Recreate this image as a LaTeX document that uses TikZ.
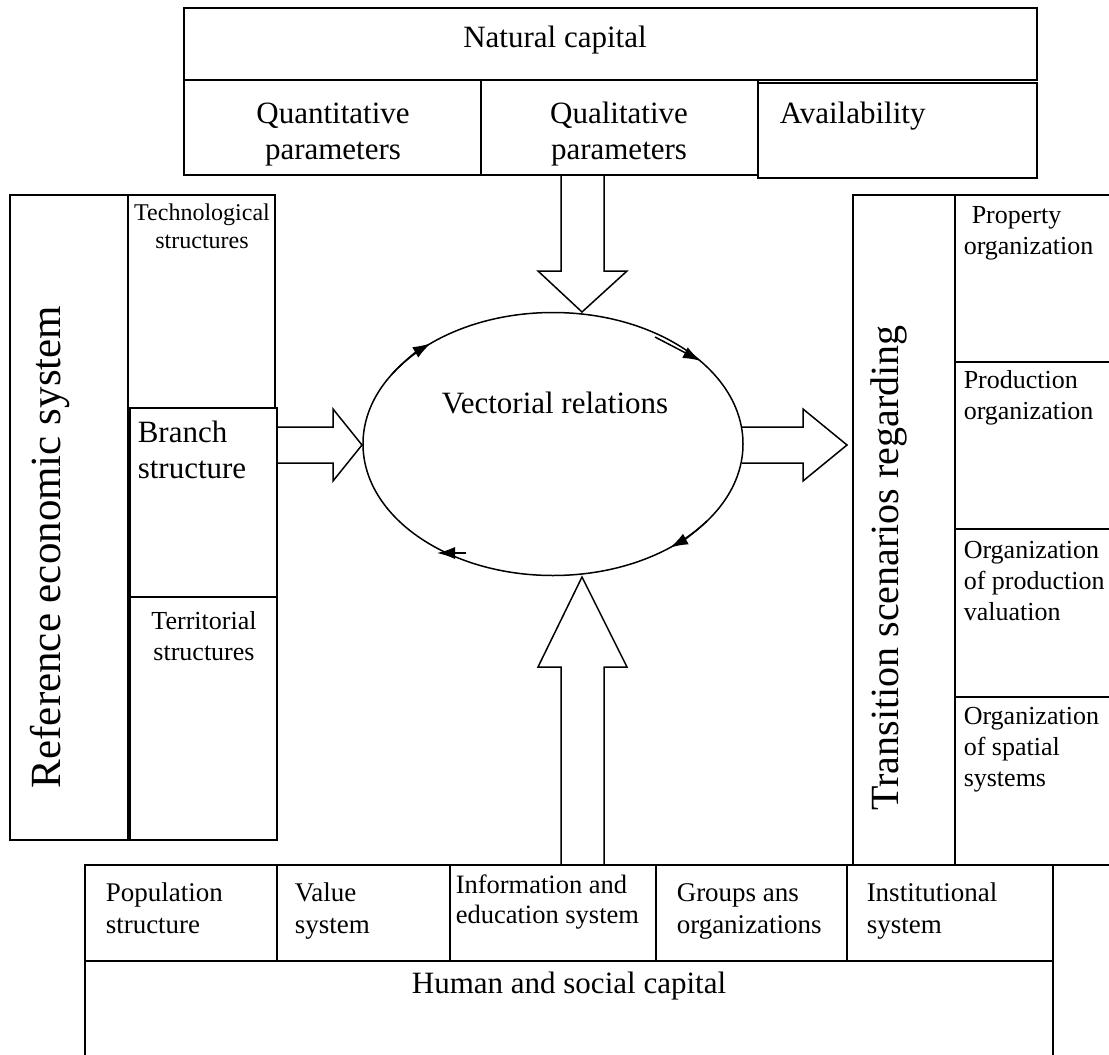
\documentclass[tikz,border=0pt]{standalone}
\usepackage{fontspec}
\setmainfont{Liberation Serif}
\usetikzlibrary{arrows.meta,shapes.geometric}
\begin{document}
\begin{tikzpicture}[x=1pt,y=-1pt,line width=1.5pt,
  box/.style={draw,rectangle,inner sep=0pt,outer sep=0pt,anchor=north west},
  fbig/.style={font=\fontsize{31}{36}\selectfont},
  fmid/.style={font=\fontsize{26}{31}\selectfont},
  fsmall/.style={font=\fontsize{24}{28}\selectfont},
  fbot/.style={font=\fontsize{27}{32}\selectfont},
  lbl/.style={inner sep=0pt,anchor=north west,align=left},
  tipa/.style={-{Latex[length=18,width=12]}},
  blockarrow/.style={draw,line join=miter}]
\useasboundingbox (0,0) rectangle (1109,1055);

% top: natural capital
\node[box,minimum width=853,minimum height=72] (nat) at (184,8) {};
\node[fbig] (tnat) at (555,40) {Natural capital};
\node[box,minimum width=297,minimum height=95] (quant) at (184,80) {};
\node[box,minimum width=277,minimum height=95] (qual) at (481,80) {};
\node[box,minimum width=279,minimum height=95] (avail) at (758,83) {};
\node[fbig,inner sep=0pt,anchor=north,align=center] (tquant) at (333,97.8) {\strut Quantitative\\parameters};
\node[fbig,inner sep=0pt,anchor=north,align=center] (tqual) at (619,97.8) {\strut Qualitative\\parameters};
\node[fbig,inner sep=0pt,anchor=base west] (tavail) at (779,123) {Availability};

% left: reference economic system
\node[box,minimum width=118,minimum height=645] (ref) at (10,195) {};
\node[font=\fontsize{43}{48}\selectfont,rotate=90] (tref) at (50,547) {Reference economic system};
\node[box,minimum width=147,minimum height=213] (tech) at (128,195) {};
\node[box,minimum width=147,minimum height=189] (branch) at (130,408) {};
\node[box,minimum width=147,minimum height=243] (terr) at (130,597) {};
\node[fsmall,inner sep=0pt,anchor=north,align=center] (ttech) at (202,200.4) {\strut Technological\\structures};
\node[fbig,lbl] (tbranch) at (137,416.8) {\strut Branch\\structure};
\node[fmid,inner sep=0pt,anchor=north,align=center] (tterr) at (204,607.3) {\strut Territorial\\structures};

% centre: vectorial relations
\node[draw,ellipse,minimum width=380,minimum height=263,inner sep=0pt] (vec) at (553,444) {};
\node[fbig] (tvec) at (555,403) {Vectorial relations};
\draw[tipa] (vec.center) ++(212:190 and 131.5) arc[start angle=212,end angle=230,x radius=190,y radius=131.5];
\draw[tipa] (vec.center) ++(36:190 and 131.5) arc[start angle=36,end angle=52,x radius=190,y radius=131.5];
\coordinate (ura) at (655,337);
\coordinate (urb) at (701,361);
\draw[tipa] (ura) -- (urb);
\coordinate (lla) at (466,553);
\coordinate (llb) at (437,553);
\draw[tipa] (lla) -- (llb);

% right: transition scenarios
\node[box,minimum width=102,minimum height=670] (trans) at (853,195) {};
\node[font=\fontsize{40}{46}\selectfont,rotate=90] (ttrans) at (889,568) {Transition scenarios regarding};
\node[box,minimum width=160,minimum height=167] (prop) at (955,195) {};
\node[box,minimum width=160,minimum height=167] (prod) at (955,362) {};
\node[box,minimum width=160,minimum height=168] (pval) at (955,529) {};
\node[box,minimum width=160,minimum height=168] (spat) at (955,697) {};
\node[fmid,lbl] (tprop) at (963,201.3) {\strut\hspace*{8pt}Property\\organization};
\node[fmid,lbl] (tprod) at (963,366.3) {\strut Production\\organization};
\node[fmid,lbl] (tpval) at (963,536.3) {\strut Organization\\of production\\valuation};
\node[fmid,lbl] (tspat) at (963,702.3) {\strut Organization\\of spatial\\systems};

% bottom: human and social capital
\node[box,minimum width=968,minimum height=100] (hum) at (85,961) {};
\node[fbig,inner sep=0pt,anchor=base] (thum) at (569,993) {Human and social capital};
\node[box,minimum width=192,minimum height=96] (pop) at (85,865) {};
\node[box,minimum width=173,minimum height=96] (valsys) at (277,865) {};
\node[box,minimum width=206,minimum height=96] (info) at (450,865) {};
\node[box,minimum width=191,minimum height=96] (grp) at (656,865) {};
\node[box,minimum width=206,minimum height=96] (inst) at (847,865) {};
\node[fbot,lbl] (tpop) at (105,878.6) {\strut Population\\structure};
\node[fbot,lbl] (tval) at (294,878.6) {\strut Value\\system};
\node[font=\fontsize{26.5}{30}\selectfont,lbl] (tinfo) at (455,872) {\strut Information and\\education system};
\node[fbot,lbl] (tgrp) at (676,878.6) {\strut Groups ans\\organizations};
\node[fbot,lbl] (tinst) at (866,878.6) {\strut Institutional\\system};

% block arrows
\draw[blockarrow] (qual.south -| 561,0) -- (561,271) -- (538,271) -- (582,312) -- (627,271) -- (604,271) -- (qual.south -| 604,0);
\draw[blockarrow] (info.north -| 561,0) -- (561,667) -- (538,667) -- (582,577) -- (627,667) -- (604,667) -- (info.north -| 604,0);
\draw[blockarrow] (branch.east |- 0,427) -- (333,427) -- (333,409) -- (362,445) -- (333,481) -- (333,463) -- (branch.east |- 0,463);
\draw[blockarrow] (742,427) -- (803,427) -- (803,409) -- (847,445) -- (803,481) -- (803,463) -- (742,463);
\end{tikzpicture}
\end{document}
